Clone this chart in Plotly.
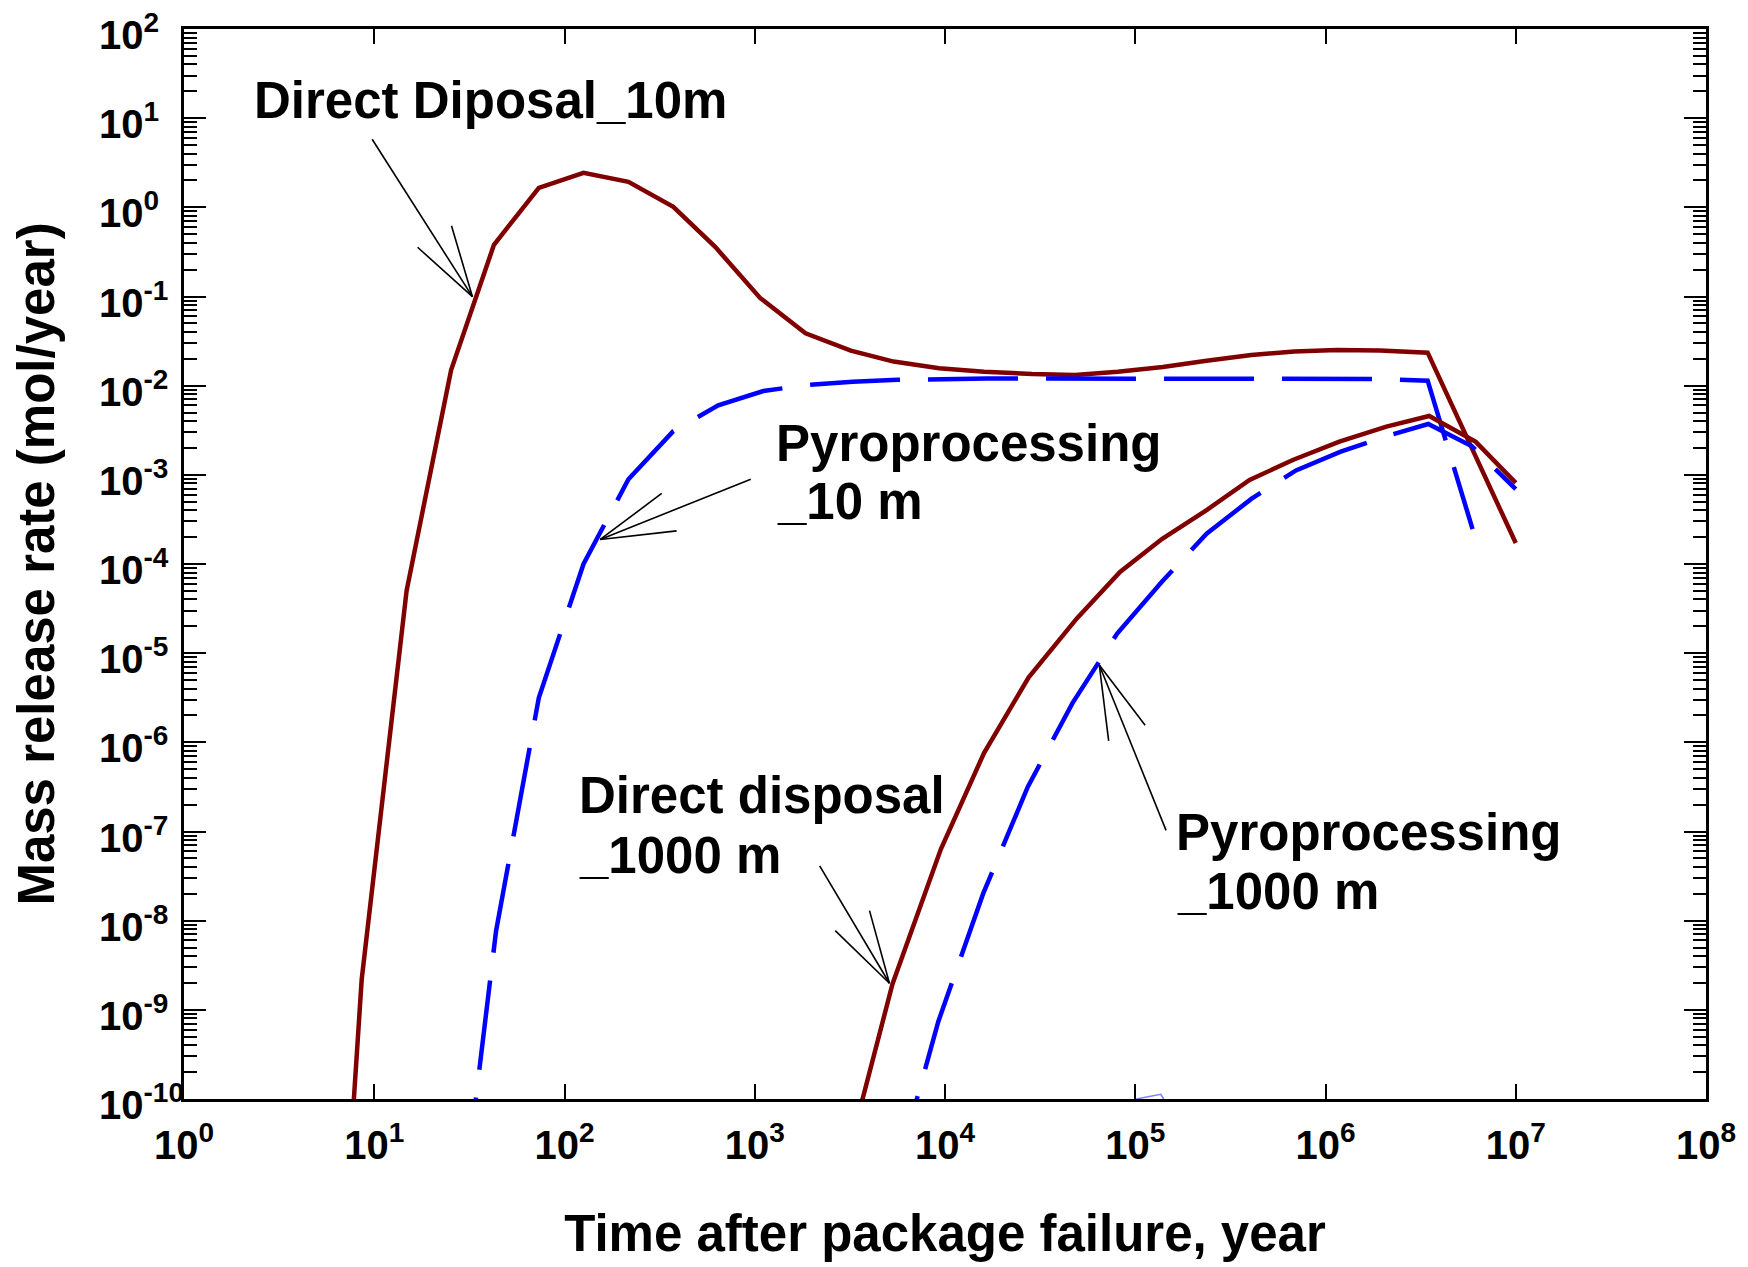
import plotly.graph_objects as go

# ---------------- data (log10 values) ----------------
# Direct Disposal, 10 m (solid dark red)
dd10_logx = [0.70, 0.934, 1.17, 1.404, 1.629, 1.865, 2.10, 2.336, 2.572, 2.792, 3.028,
             3.267, 3.505, 3.73, 3.969, 4.206, 4.458, 4.683, 4.908, 5.145, 5.375, 5.61,
             5.835, 6.06, 6.287, 6.537, 7.0]
dd10_logy = [-16.3, -8.66, -4.3, -1.824, -0.421, 0.219, 0.387, 0.286, 0.006, -0.443, -1.016,
             -1.412, -1.607, -1.73, -1.805, -1.843, -1.869, -1.88, -1.843, -1.79, -1.72, -1.655,
             -1.618, -1.60, -1.607, -1.63, -3.765]

# Pyroprocessing, 10 m (dashed blue)
py10_logx = [1.404, 1.64, 1.865, 2.10, 2.336, 2.572, 2.808, 3.045, 3.28, 3.515, 3.75, 3.985,
             4.22, 4.455, 4.69, 4.925, 5.16, 5.395, 5.63, 5.865, 6.10, 6.30, 6.537, 6.773]
py10_logy = [-12.3, -8.12, -5.5, -4.0, -3.05, -2.51, -2.22, -2.06, -1.99, -1.955, -1.935, -1.925,
             -1.92, -1.92, -1.92, -1.92, -1.92, -1.92, -1.92, -1.92, -1.92, -1.925, -1.944, -3.608]

# Direct disposal, 1000 m (solid dark red)
dd1000_logx = [3.49, 3.724, 3.978, 4.205, 4.44, 4.693, 4.92, 5.14, 5.375, 5.601, 5.828,
               6.073, 6.32, 6.545, 6.79, 7.0]
dd1000_logy = [-10.63, -8.71, -7.20, -6.12, -5.27, -4.61, -4.09, -3.72, -3.395, -3.058, -2.834,
               -2.628, -2.46, -2.34, -2.63, -3.09]

# Pyroprocessing, 1000 m (dashed blue)
py1000_logx = [3.73, 3.965, 4.20, 4.435, 4.67, 4.905, 5.14, 5.375, 5.61, 5.845, 6.08,
               6.315, 6.54, 6.77, 7.0]
py1000_logy = [-10.94, -9.13, -7.70, -6.50, -5.56, -4.78, -4.20, -3.66, -3.27, -2.95, -2.74,
               -2.57, -2.43, -2.68, -3.16]

# faint light-blue fragment near the bottom axis
faint_logx = [5.005, 5.134, 5.15]
faint_logy = [-10.0, -9.947, -10.0]

# ticks
x_tick_exp = list(range(0, 9))
y_tick_exp = list(range(-10, 3))
x_tick_text = [f"10<sup>{e}</sup>" for e in x_tick_exp]
y_tick_text = [f"10<sup>{e}</sup>" for e in y_tick_exp]

# text labels
label_texts = ["Direct Diposal_10m", "Pyroprocessing", "_10 m",
               "Direct disposal", "_1000 m", "Pyroprocessing", "_1000 m"]

# ---------------- layout helpers ----------------
FIG_W, FIG_H = 1748, 1267
L, T, R, B = 184, 29, 37, 168
W = FIG_W - L - R
H = FIG_H - T - B
FONT = "Liberation Sans, Arial, Helvetica, sans-serif"
LABEL_SIZE = 51


def pow10(v):
    return [10.0 ** a for a in v]


def px2paper(px, py):
    return (px - L) / W, (T + H - py) / H


fig = go.Figure()

RED = "#800000"
BLUE = "#0000FF"

fig.add_trace(go.Scatter(x=pow10(dd10_logx), y=pow10(dd10_logy), mode="lines",
                         line=dict(color=RED, width=4.5), name="Direct Diposal_10m"))
fig.add_trace(go.Scatter(x=pow10(py10_logx), y=pow10(py10_logy), mode="lines",
                         line=dict(color=BLUE, width=4.5, dash="90px,28px"), name="Pyroprocessing_10 m"))
fig.add_trace(go.Scatter(x=pow10(dd1000_logx), y=pow10(dd1000_logy), mode="lines",
                         line=dict(color=RED, width=4.5), name="Direct disposal_1000 m"))
fig.add_trace(go.Scatter(x=pow10(py1000_logx), y=pow10(py1000_logy), mode="lines",
                         line=dict(color=BLUE, width=4.5, dash="90px,28px"), name="Pyroprocessing_1000 m"))
fig.add_trace(go.Scatter(x=pow10(faint_logx), y=pow10(faint_logy), mode="lines",
                         line=dict(color="#8080FF", width=1.6), name="faint", cliponaxis=False))

annotations = []
# y tick labels (left aligned like the original)
for e, txt in zip(y_tick_exp, y_tick_text):
    annotations.append(dict(x=(97 - L) / W, xref="paper", y=e, yref="y", text=txt,
                            showarrow=False, xanchor="left", yanchor="middle", yshift=-3,
                            font=dict(family=FONT, size=40, color="black", weight="bold")))

# text labels: (left px, centre px)
label_pos = [(252, 100), (776, 443), (777, 502), (578, 796), (578, 855), (1177, 832), (1178, 891)]
for txt, (lx, ly) in zip(label_texts, label_pos):
    xp, yp = px2paper(lx, ly)
    annotations.append(dict(x=xp, y=yp, xref="paper", yref="paper", text=txt, showarrow=False,
                            xanchor="left", yanchor="middle",
                            font=dict(family=FONT, size=LABEL_SIZE, color="black", weight="bold")))

# arrows: tip (log10 x, log10 y) and three tails offset in pixels (stem + two barbs)
arrow_tips = [(1.516, -1.002), (2.188, -3.725), (4.811, -5.133), (3.708, -8.702)]
arrow_tails = [
    [(-100.6, -157.4), (-55.0, -49.4), (-21.0, -71.0)],
    [(151.0, -60.3), (61.6, -46.0), (76.6, -8.6)],
    [(67.0, 165.3), (9.4, 75.8), (46.0, 60.3)],
    [(-70.0, -117.3), (-54.4, -52.6), (-20.0, -72.6)],
]
shapes = []
for (tx, ty), tails in zip(arrow_tips, arrow_tails):
    x0, y0 = tx / 8.0, (ty + 10.0) / 12.0
    for dx, dy in tails:
        shapes.append(dict(type="line", xref="paper", yref="paper",
                           x0=x0, y0=y0, x1=x0 + dx / W, y1=y0 - dy / H,
                           line=dict(color="black", width=1.6)))

fig.update_layout(
    width=FIG_W, height=FIG_H, autosize=False,
    margin=dict(l=L, r=R, t=T, b=B, pad=0),
    paper_bgcolor="white", plot_bgcolor="white",
    showlegend=False,
    annotations=annotations, shapes=shapes,
    font=dict(family=FONT, color="black"),
)

fig.update_xaxes(
    type="log", range=[0, 8], showgrid=False, zeroline=False,
    showline=True, linecolor="black", linewidth=3, mirror="ticks",
    ticks="inside", ticklen=15, tickwidth=2, tickcolor="black",
    tickvals=[10.0 ** e for e in x_tick_exp], ticktext=x_tick_text,
    tickfont=dict(family=FONT, size=40, color="black", weight="bold"),
    ticklabelstandoff=9,
    title=dict(text="Time after package failure, year", standoff=50,
               font=dict(family=FONT, size=LABEL_SIZE, color="black", weight="bold")),
)

minor_y = [k * 10.0 ** e for e in range(-10, 2) for k in range(2, 10)]
fig.update_yaxes(
    type="log", range=[-10, 2], showgrid=False, zeroline=False,
    showline=True, linecolor="black", linewidth=3, mirror="ticks",
    ticks="inside", ticklen=22, tickwidth=2, tickcolor="black",
    tickvals=[10.0 ** e for e in y_tick_exp], showticklabels=False,
    minor=dict(ticks="inside", ticklen=13, tickwidth=1.5, tickcolor="black",
               tickvals=minor_y, showgrid=False),
    title=dict(text="Mass release rate (mol/year)", standoff=111,
               font=dict(family=FONT, size=LABEL_SIZE, color="black", weight="bold")),
)

fig.write_html("out.html")
